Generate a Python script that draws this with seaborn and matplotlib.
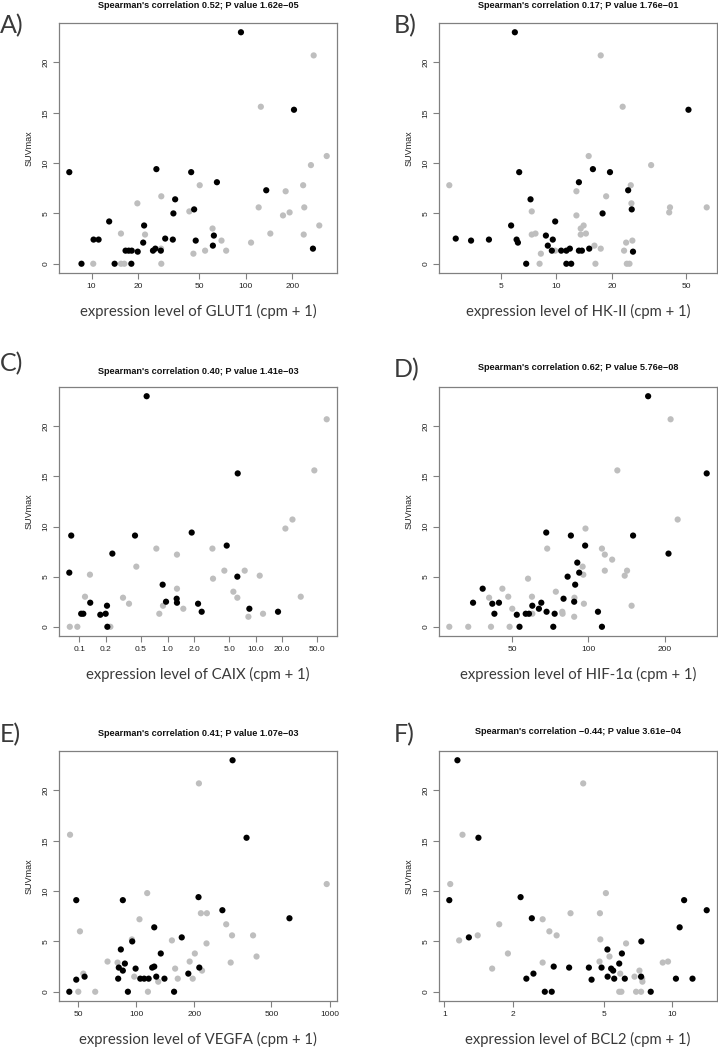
import numpy as np
import pandas as pd
import matplotlib
matplotlib.use("Agg")
import matplotlib.pyplot as plt
import seaborn as sns

# ---- data (x = expression cpm + 1, y = SUVmax) ----
# A) GLUT1
glut1_black_x = [7.17, 8.6, 10.3, 11.1, 13.0, 14.1, 16.6, 17.4, 18.2, 18.1, 19.9, 21.6, 21.9, 25.0, 25.9,
                 26.3, 28.1, 30.0, 33.6, 33.9, 34.8, 44.2, 46.2, 47.3, 61.1, 62.0, 64.9, 92.9, 135.5, 205, 272]
glut1_black_y = [9.1, 0, 2.4, 2.4, 4.2, 0, 1.3, 1.3, 1.3, 0, 1.2, 2.1, 3.8, 1.3, 1.5,
                 9.4, 1.3, 2.5, 2.4, 5.0, 6.4, 9.1, 5.4, 2.3, 1.8, 2.8, 8.1, 23.0, 7.3, 15.3, 1.5]
glut1_gray_x = [10.25, 15.5, 15.5, 16.3, 19.8, 22.2, 28.3, 28.2, 28.3, 43.0, 45.7, 50.2, 54.4, 60.8, 69.5,
                74.5, 108, 121, 125, 144, 174, 181, 192, 235, 237, 239, 264, 275, 299, 334]
glut1_gray_y = [0, 3.0, 0, 0, 6.0, 2.9, 6.7, 1.5, 0, 5.2, 1.0, 7.8, 1.3, 3.5, 2.3,
                1.3, 2.1, 5.6, 15.6, 3.0, 4.8, 7.2, 5.1, 7.8, 2.9, 5.6, 9.8, 20.7, 3.8, 10.7]

# B) HK-II
hk2_black_x = [2.87, 3.47, 4.33, 5.70, 5.97, 6.10, 6.20, 6.30, 6.87, 7.25, 8.77, 8.98, 9.44, 9.55, 9.84, 10.6,
               11.3, 11.3, 11.8, 12.0, 13.2, 13.2, 13.7, 15.0, 15.7, 17.7, 19.4, 24.3, 25.4, 25.8, 51.3]
hk2_black_y = [2.5, 2.3, 2.4, 3.8, 23.0, 2.4, 2.1, 9.1, 0, 6.4, 2.8, 1.8, 1.3, 2.4, 4.2, 1.3,
               0, 1.3, 1.5, 0, 8.1, 1.3, 1.3, 1.5, 9.4, 5.0, 9.1, 7.3, 5.4, 1.2, 15.3]
hk2_gray_x = [2.65, 7.36, 7.36, 7.71, 8.11, 8.24, 9.84, 12.8, 12.8, 13.5, 13.5, 14.0, 14.4, 14.9, 16.0, 16.2,
              17.3, 17.3, 18.5, 22.7, 23.1, 23.7, 23.9, 24.7, 25.1, 25.3, 25.6, 32.3, 40.4, 40.8, 64.3]
hk2_gray_y = [7.8, 5.2, 2.9, 3.0, 0, 1.0, 1.3, 7.2, 4.8, 3.5, 2.9, 3.8, 3.0, 10.7, 1.8, 0,
              20.7, 1.5, 6.7, 15.6, 1.3, 2.1, 0, 0, 7.8, 6.0, 2.3, 9.8, 5.1, 5.6, 5.6]

# C) CAIX
caix_black_x = [0.077, 0.081, 0.105, 0.111, 0.133, 0.173, 0.199, 0.206, 0.208, 0.237, 0.428, 0.580,
                0.881, 0.962, 1.27, 1.28, 1.88, 2.22, 2.44, 4.69, 6.19, 6.25, 8.47, 17.9]
caix_black_y = [5.4, 9.1, 1.3, 1.3, 2.4, 1.2, 1.3, 2.1, 0, 7.3, 9.1, 23.0,
                4.2, 2.5, 2.8, 2.4, 9.4, 2.3, 1.5, 8.1, 5.0, 15.3, 1.8, 1.5]
caix_gray_x = [0.078, 0.095, 0.116, 0.132, 0.225, 0.313, 0.366, 0.443, 0.747, 0.807, 0.889, 1.28, 1.28, 1.51,
               3.23, 3.28, 4.41, 5.58, 6.19, 7.50, 8.26, 11.1, 12.1, 21.7, 26.1, 32.4, 46.2, 63.8]
caix_gray_y = [0, 0, 3.0, 5.2, 0, 2.9, 2.3, 6.0, 7.8, 1.3, 2.1, 7.2, 3.8, 1.8,
               7.8, 4.8, 5.6, 3.5, 2.9, 5.6, 1.0, 5.1, 1.3, 9.8, 10.7, 3.0, 15.6, 20.7]

# D) HIF-1a
hif1a_black_x = [35.0, 38.2, 41.7, 42.5, 44.3, 52.1, 53.4, 56.5, 58.2, 60.0, 63.7, 65.1, 68.1, 68.3, 72.6,
                 73.5, 79.7, 82.7, 85.2, 87.8, 88.6, 90.3, 91.9, 97.0, 109, 113, 150, 172, 207, 293]
hif1a_black_y = [2.4, 3.8, 2.3, 1.3, 2.4, 1.2, 0, 1.3, 1.3, 2.1, 1.8, 2.4, 9.4, 1.5, 0,
                 1.3, 2.8, 5.0, 9.1, 2.5, 4.2, 6.4, 5.4, 8.1, 1.5, 0, 9.1, 23.0, 7.3, 15.3]
hif1a_gray_x = [28.2, 33.5, 40.5, 41.2, 45.7, 48.2, 48.8, 50.0, 57.7, 59.8, 60.0, 68.7, 74.3, 78.8, 79.0, 87.8,
                88.0, 94.8, 95.4, 95.9, 97.3, 113, 116, 116, 124, 130, 139, 142, 148, 211, 225]
hif1a_gray_y = [0, 0, 2.9, 0, 3.8, 3.0, 0, 1.8, 4.8, 3.0, 1.3, 7.8, 3.5, 1.5, 1.3, 1.0,
                2.9, 6.0, 5.2, 2.3, 9.8, 7.8, 7.2, 5.6, 6.7, 15.6, 5.1, 5.6, 2.1, 20.7, 10.7]

# E) VEGFA
vegfa_black_x = [45.1, 49.0, 49.0, 54.1, 80.7, 81.3, 83.3, 85.3, 85.3, 87.4, 90.6, 95.4, 99.3, 105, 110, 116,
                 121, 124, 124, 127, 134, 140, 157, 172, 186, 210, 212, 279, 315, 372, 620]
vegfa_black_y = [0, 9.1, 1.2, 1.5, 1.3, 2.4, 4.2, 2.1, 9.1, 2.8, 0, 5.0, 2.3, 1.3, 1.3, 1.3,
                 2.4, 2.5, 6.4, 1.5, 3.8, 1.3, 0, 5.4, 1.8, 9.4, 2.4, 8.1, 23.0, 15.3, 7.3]
vegfa_gray_x = [45.5, 50.2, 51.2, 53.3, 61.4, 71.1, 80.1, 95.0, 97.7, 104, 114, 115, 130, 153, 159,
                164, 189, 196, 201, 211, 216, 219, 231, 232, 292, 308, 313, 402, 419, 966]
vegfa_gray_y = [15.6, 0, 6.0, 1.8, 0, 3.0, 2.9, 5.2, 1.5, 7.2, 9.8, 0, 1.0, 5.1, 2.3,
                1.3, 3.0, 1.3, 3.8, 20.7, 7.8, 2.1, 4.8, 7.8, 6.7, 2.9, 5.6, 5.6, 3.5, 10.7]

# F) BCL2
bcl2_black_x = [1.05, 1.14, 1.28, 1.41, 2.16, 2.29, 2.42, 2.46, 2.76, 2.96, 3.02, 3.53, 4.31, 4.43, 4.90, 5.20,
                5.21, 5.40, 5.51, 5.57, 5.86, 6.02, 6.20, 7.33, 7.31, 8.06, 10.4, 10.8, 11.3, 12.3, 14.2]
bcl2_black_y = [9.1, 23.0, 5.4, 15.3, 9.4, 1.3, 7.3, 1.8, 0, 0, 2.5, 2.4, 2.4, 1.2, 2.4, 4.2,
                1.5, 2.3, 2.1, 1.3, 2.8, 3.8, 1.3, 5.0, 1.5, 0, 1.3, 6.4, 9.1, 1.3, 8.1]
bcl2_gray_x = [1.06, 1.16, 1.20, 1.40, 1.62, 1.74, 1.90, 2.70, 2.70, 2.89, 3.11, 3.58, 4.07, 4.82, 4.84,
               4.80, 5.12, 5.31, 5.86, 5.99, 5.92, 6.28, 6.84, 6.95, 7.19, 7.31, 7.39, 7.41, 9.10, 9.60]
bcl2_gray_y = [10.7, 5.1, 15.6, 5.6, 2.3, 6.7, 3.8, 7.2, 2.9, 6.0, 5.6, 7.8, 20.7, 7.8, 5.2,
               3.0, 9.8, 3.5, 0, 0, 1.8, 4.8, 1.5, 0, 2.1, 0, 1.3, 1.0, 2.9, 3.0]

panels = [
    ("A)", "GLUT1", 0.52, "1.62e\u221205", glut1_black_x, glut1_black_y, glut1_gray_x, glut1_gray_y,
     [10, 20, 50, 100, 200], ["10", "20", "50", "100", "200"]),
    ("B)", "HK-II", 0.17, "1.76e\u221201", hk2_black_x, hk2_black_y, hk2_gray_x, hk2_gray_y,
     [5, 10, 20, 50], ["5", "10", "20", "50"]),
    ("C)", "CAIX", 0.40, "1.41e\u221203", caix_black_x, caix_black_y, caix_gray_x, caix_gray_y,
     [0.1, 0.2, 0.5, 1, 2, 5, 10, 20, 50], ["0.1", "0.2", "0.5", "1.0", "2.0", "5.0", "10.0", "20.0", "50.0"]),
    ("D)", "HIF-1\u03b1", 0.62, "5.76e\u221208", hif1a_black_x, hif1a_black_y, hif1a_gray_x, hif1a_gray_y,
     [50, 100, 200], ["50", "100", "200"]),
    ("E)", "VEGFA", 0.41, "1.07e\u221203", vegfa_black_x, vegfa_black_y, vegfa_gray_x, vegfa_gray_y,
     [50, 100, 200, 500, 1000], ["50", "100", "200", "500", "1000"]),
    ("F)", "BCL2", -0.44, "3.61e\u221204", bcl2_black_x, bcl2_black_y, bcl2_gray_x, bcl2_gray_y,
     [1, 2, 5, 10], ["1", "2", "5", "10"]),
]

sns.set_style("white")
plt.rcParams["font.family"] = ["Liberation Sans", "DejaVu Sans"]

W, H = 718, 1047
fig = plt.figure(figsize=(W / 100, H / 100), dpi=100)

# axes boxes in pixels (left, top, right, bottom)
boxes = [(59, 23, 337, 273), (439, 23, 717, 273),
         (59, 387, 337, 636), (439, 387, 717, 636),
         (59, 751, 337, 1001), (439, 751, 717, 1001)]
title_y = [5, 5, 372, 368, 733, 732]
letter_pos = [(0, 26), (394, 26), (0, 364), (394, 370), (0, 735), (394, 735)]

edge = "#808080"
for i, (letter, gene, rho, pval, bx, by, gx, gy, xt, xtl) in enumerate(panels):
    l, t, r, b = boxes[i]
    ax = fig.add_axes([l / W, 1 - b / H, (r - l) / W, (b - t) / H])
    df = pd.DataFrame({
        "expr": gx + bx,
        "suv": gy + by,
        "grp": ["gray"] * len(gx) + ["black"] * len(bx),
    })
    sns.scatterplot(data=df, x="expr", y="suv", hue="grp",
                    palette={"gray": "#BEBEBE", "black": "black"},
                    s=20, linewidth=0, legend=False, ax=ax)
    ax.set_xscale("log")
    ax.margins(x=0.04, y=0.04)
    ax.set_xticks(xt, xtl)
    ax.xaxis.set_minor_locator(matplotlib.ticker.NullLocator())
    ax.set_yticks([0, 5, 10, 15, 20], ["0", "5", "10", "15", "20"])
    for lab in ax.get_yticklabels():
        lab.set_rotation(90)
        lab.set_va("center")
    ax.tick_params(axis="both", direction="out", length=4, width=0.8, color=edge,
                   labelsize=6, labelcolor="#222222", pad=3, left=True, bottom=True)
    for sp in ax.spines.values():
        sp.set_color(edge)
        sp.set_linewidth(0.9)
    ax.set_xlabel("")
    ax.set_ylabel("SUVmax", fontsize=6.5, color="#222222", labelpad=6)

    cx = (l + r) / 2
    fig.text(cx / W, 1 - title_y[i] / H,
             f"Spearman's correlation {rho:.2f}; P value {pval}".replace("-0.44", "\u22120.44"),
             ha="center", va="center", fontsize=6.6, fontweight="bold", color="#111111")
    fig.text(cx / W, 1 - (b + 38) / H, f"expression level of {gene} (cpm + 1)",
             ha="center", va="center", fontsize=10.7, color="#3a3a3a",
             family=["Lato", "DejaVu Sans"])
    fig.text(letter_pos[i][0] / W, 1 - letter_pos[i][1] / H, letter,
             ha="left", va="center", fontsize=18, color="#3a3a3a",
             family=["Lato", "DejaVu Sans"])

fig.savefig("out.png", dpi=100, facecolor="white")
